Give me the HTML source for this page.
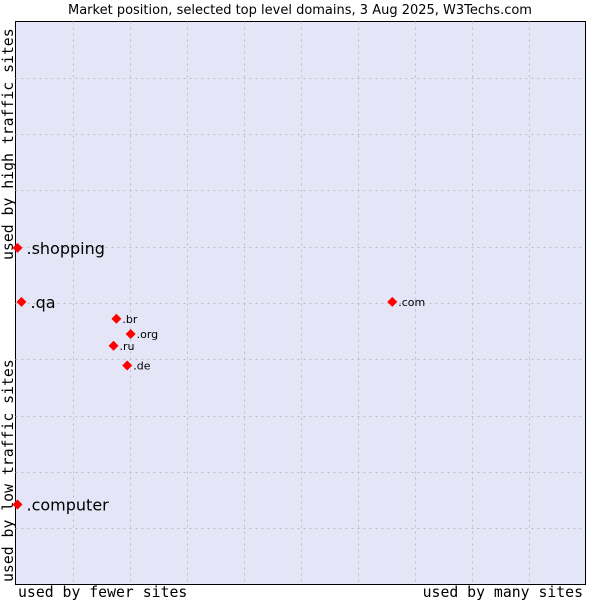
<!DOCTYPE html>
<html><head><meta charset="utf-8"><style>
body{margin:0;background:#fff;font-family:"DejaVu Sans","Liberation Sans",sans-serif}
</style></head><body>
<svg width="600" height="600" xmlns="http://www.w3.org/2000/svg">
<rect x="0" y="0" width="600" height="600" fill="#fff"/>
<text x="300" y="14" text-anchor="middle" font-size="13" font-family="DejaVu Sans, sans-serif" fill="#000">Market position, selected top level domains, 3 Aug 2025, W3Techs.com</text>
<rect x="15.5" y="21.5" width="570" height="563" fill="#e4e6f8" stroke="#000"/>
<g id="grid"></g>
<g id="pts"></g>
<text x="18" y="597" font-size="14.8" font-family="DejaVu Sans Mono, monospace">used by fewer sites</text>
<text x="583" y="597" text-anchor="end" font-size="14.8" font-family="DejaVu Sans Mono, monospace">used by many sites</text>
<text transform="translate(13,582) rotate(-90)" font-size="14.8" font-family="DejaVu Sans Mono, monospace">used by low traffic sites</text>
<text transform="translate(13,260) rotate(-90)" font-size="14.8" font-family="DejaVu Sans Mono, monospace">used by high traffic sites</text>
</svg>
<script>
const names=[".shopping",".qa",".computer",".com",".br",".org",".ru",".de"];
const xVals=[0.35,1.05,0.35,66.1,17.7,20.2,17.2,19.6];
const yVals=[59.8,50.2,14.2,50.2,47.2,44.5,42.4,38.9];
const big=[true,true,true,false,false,false,false,false];
const NS="http://www.w3.org/2000/svg";
const L=15.5,R=585.5,T=21.5,B=584.5;
const sx=v=>L+v/100*(R-L), sy=v=>B-v/100*(B-T);
const grid=document.getElementById('grid');
for(let i=1;i<10;i++){
 const a=document.createElementNS(NS,'line');
 
 
 const x=Math.round(sx(i*10))+0.5;
 a.setAttribute('x1',x);a.setAttribute('x2',x);a.setAttribute('y1',T);a.setAttribute('y2',B);
 a.setAttribute('stroke','#bcbcbc');a.setAttribute('stroke-dasharray','2,4');grid.appendChild(a);
 const b=document.createElementNS(NS,'line');
 
 
 const y=Math.round(sy(i*10))+0.5;
 b.setAttribute('x1',L);b.setAttribute('x2',R);b.setAttribute('y1',y);b.setAttribute('y2',y);
 b.setAttribute('stroke','#bcbcbc');b.setAttribute('stroke-dasharray','2,4');grid.appendChild(b);
}
const pts=document.getElementById('pts');
names.forEach((n,i)=>{
 const x=sx(xVals[i]),y=sy(yVals[i]);
 const p=document.createElementNS(NS,'polygon');
 
 
 p.setAttribute('points',`${x},${y-5} ${x+5},${y} ${x},${y+5} ${x-5},${y}`);
 p.setAttribute('fill','#ff0000');pts.appendChild(p);
 const t=document.createElementNS(NS,'text');
 
 
 t.setAttribute('x',x+(big[i]?9:6));t.setAttribute('y',y+(big[i]?6:4));
 t.setAttribute('font-size',big[i]?16:11);
 t.setAttribute('font-family','DejaVu Sans, sans-serif');
 t.textContent=n;pts.appendChild(t);
});
</script>
</body></html>
